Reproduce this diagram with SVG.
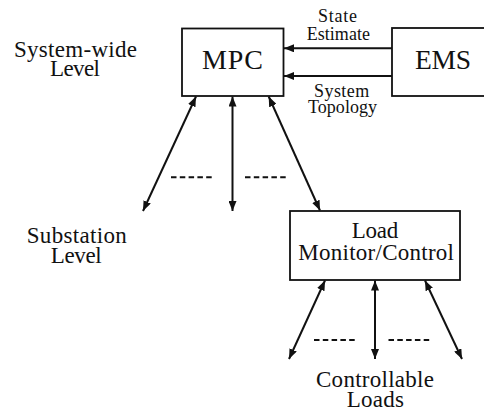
<svg xmlns="http://www.w3.org/2000/svg" width="484" height="412" viewBox="0 0 484 412">
<defs>
<marker id="ah" viewBox="0 0 10 8" refX="10" refY="4" markerWidth="10" markerHeight="8" markerUnits="userSpaceOnUse" orient="auto-start-reverse">
<path d="M0,0 L10,4 L0,8 Z" fill="#111"/>
</marker>
</defs>
<rect width="484" height="412" fill="#fff"/>
<g id="label-system" fill="#111" font-size="23" font-family="Liberation Serif, Times New Roman, serif">
<text x="14" y="57" textLength="123">System-wide</text>
<text x="50" y="76" textLength="50">Level</text>
</g>
<g id="label-substation" fill="#111" font-size="23" font-family="Liberation Serif, Times New Roman, serif">
<text x="26.7" y="243" textLength="100">Substation</text>
<text x="50.7" y="263" textLength="51">Level</text>
</g>
<g id="mpc">
<rect x="182" y="28.5" width="101.5" height="67.5" fill="#fff" stroke="#111" stroke-width="1.8"/>
<text font-family="Liberation Serif, Times New Roman, serif" fill="#111" x="202" y="69" font-size="28" textLength="61">MPC</text>
</g>
<g id="ems">
<rect x="392" y="28" width="100" height="68" fill="#fff" stroke="#111" stroke-width="1.8"/>
<text font-family="Liberation Serif, Times New Roman, serif" fill="#111" x="415" y="68.5" font-size="27.5" textLength="56">EMS</text>
</g>
<g id="load" fill="#111" font-size="23" font-family="Liberation Serif, Times New Roman, serif">
<rect x="290" y="211" width="170" height="69" fill="#fff" stroke="#111" stroke-width="1.8"/>
<text x="351.7" y="237.5" textLength="46.6">Load</text>
<text x="298.3" y="260" textLength="155.7">Monitor/Control</text>
</g>
<g id="label-loads" fill="#111" font-size="23" font-family="Liberation Serif, Times New Roman, serif">
<text x="316" y="387" textLength="118">Controllable</text>
<text x="346.7" y="406.5" textLength="57.3">Loads</text>
</g>
<g id="connectors" stroke="#111" stroke-width="2" fill="none">
<line x1="392" y1="48.3" x2="284" y2="48.3" marker-end="url(#ah)"/>
<line x1="392" y1="76" x2="284" y2="76" marker-end="url(#ah)"/>
<g fill="#111" stroke="none" font-size="18" font-family="Liberation Serif, Times New Roman, serif">
<text x="318" y="22" textLength="39">State</text>
<text x="306.7" y="40" textLength="63.3">Estimate</text>
<text x="314" y="97" textLength="55.3">System</text>
<text x="308" y="113" textLength="69">Topology</text>
</g>
<line x1="196" y1="96.5" x2="143" y2="211" marker-start="url(#ah)" marker-end="url(#ah)"/>
<line x1="232.5" y1="96.5" x2="232.5" y2="211" marker-start="url(#ah)" marker-end="url(#ah)"/>
<line x1="268.7" y1="96.5" x2="320" y2="210.5" marker-start="url(#ah)" marker-end="url(#ah)"/>
<line x1="325" y1="280.5" x2="289" y2="359" marker-start="url(#ah)" marker-end="url(#ah)"/>
<line x1="375" y1="280.5" x2="375" y2="359" marker-start="url(#ah)" marker-end="url(#ah)"/>
<line x1="425" y1="280.5" x2="462" y2="359" marker-start="url(#ah)" marker-end="url(#ah)"/>
<g stroke-dasharray="5.5 3.3">
<line x1="171" y1="177.3" x2="215" y2="177.3"/>
<line x1="245" y1="177.3" x2="289" y2="177.3"/>
<line x1="314" y1="340" x2="357.5" y2="340"/>
<line x1="388.5" y1="340" x2="432" y2="340"/>
</g>
</g>
</svg>
